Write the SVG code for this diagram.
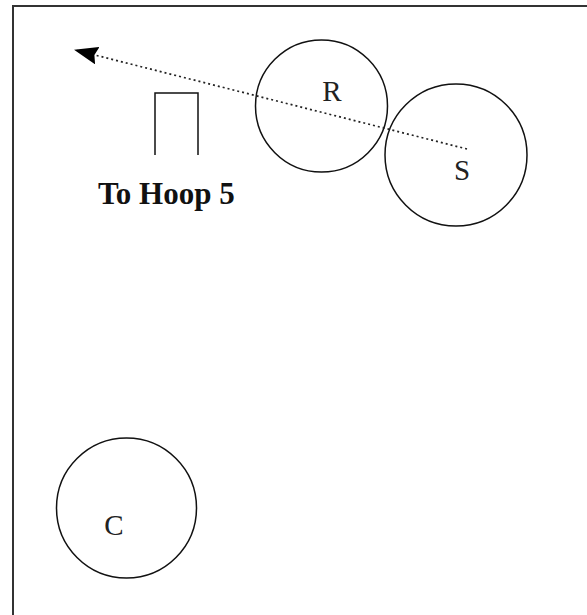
<svg xmlns="http://www.w3.org/2000/svg" width="587" height="615" viewBox="0 0 587 615">
<style>
.ln{fill:none;stroke:#111;stroke-width:1.5}
.lbl{font-family:"Liberation Serif","Times New Roman",serif;font-size:29px;fill:#222}
.title{font-family:"Liberation Serif","Times New Roman",serif;font-weight:bold;font-size:31px;fill:#111}
.dot{fill:none;stroke:#222;stroke-width:1.7;stroke-dasharray:2 3}
</style>
<defs>
<marker id="ah" viewBox="0 0 24 18" refX="23" refY="9" markerWidth="24" markerHeight="18" markerUnits="userSpaceOnUse" orient="auto">
<path d="M0,0 L24,9 L0,18 L3,9 Z" fill="#000"/>
</marker>
</defs>
<rect width="587" height="615" fill="#fff"/>
<rect x="13" y="6" width="620" height="700" fill="none" stroke="#333" stroke-width="2"/>
<g id="hoop">
<path class="ln" d="M155,155 V93 H198 V155"/>
<text class="title" x="98" y="204">To Hoop 5</text>
</g>
<g id="R">
<circle class="ln" cx="321.5" cy="106" r="66"/>
<text class="lbl" x="332" y="101" text-anchor="middle">R</text>
</g>
<g id="S">
<circle class="ln" cx="456" cy="155" r="71"/>
<text class="lbl" x="462" y="180" text-anchor="middle">S</text>
</g>
<g id="C">
<circle class="ln" cx="126.5" cy="508" r="70"/>
<text class="lbl" x="114" y="535" text-anchor="middle">C</text>
</g>
<g id="connectors">
<line class="dot" x1="467" y1="149" x2="75" y2="50" marker-end="url(#ah)"/>
</g>
</svg>
